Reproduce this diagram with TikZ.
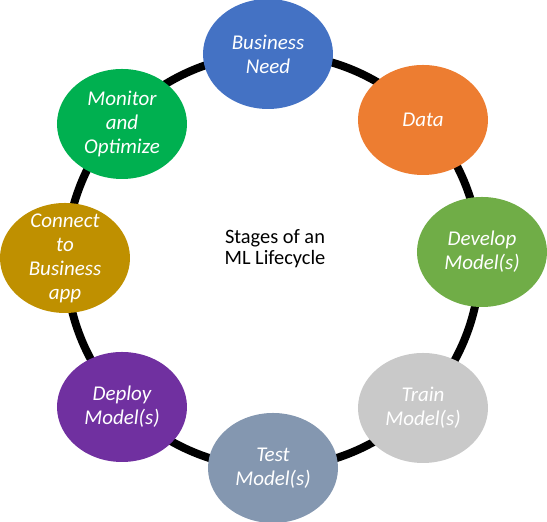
\documentclass[tikz,border=0pt]{standalone}
\usepackage{fontspec}
\setmainfont{Carlito}
\usetikzlibrary{shapes.geometric}

\definecolor{needblue}{HTML}{4472C4}
\definecolor{dataorange}{HTML}{ED7D31}
\definecolor{developgreen}{HTML}{70AD47}
\definecolor{traingray}{HTML}{C9C9C9}
\definecolor{testslate}{HTML}{8497B0}
\definecolor{deploypurple}{HTML}{7030A0}
\definecolor{connectgold}{HTML}{BF9000}
\definecolor{monitorgreen}{HTML}{00B050}

\tikzset{
    stage/.style={ellipse, minimum width=65pt, minimum height=55pt, inner sep=-6pt,
        text=white, align=center, font=\itshape\fontsize{10.5}{12}\selectfont},
    ring/.style={line width=4pt, black}
}

\begin{document}
\begin{tikzpicture}
        \useasboundingbox (-136.5pt,-130.5pt) rectangle (137pt,130.5pt);
        % Draw ring behind the stages
        \coordinate (ctr) at (0,0);
        \draw[ring] (ctr) circle[radius=103.5pt];
        % Draw stages (Vertices/Nodes)
        \foreach \stg/\clr/\pos/\lbl in {
            need/needblue/{-2.5pt,103.5pt}/{Business\\Need},
            data/dataorange/{75pt,70.5pt}/{Data},
            develop/developgreen/{104.5pt,4.5pt}/{Develop\\Model(s)},
            train/traingray/{75pt,-73.5pt}/{Train\\Model(s)},
            test/testslate/{0pt,-103.5pt}/{Test\\Model(s)},
            deploy/deploypurple/{-75.5pt,-73pt}/{Deploy\\Model(s)},
            connect/connectgold/{-104pt,1.5pt}/{Connect\\to\\Business\\app},
            monitor/monitorgreen/{-75.5pt,68.5pt}/{Monitor\\and\\Optimize}}{
            \node[stage, fill=\clr] (\stg) at (\pos) {\lbl};
        }
        % Title in the middle
        \node[align=center, font=\fontsize{10.2}{10.5}\selectfont] (hub) at (1pt,6pt) {Stages of an\\ML Lifecycle};
    \end{tikzpicture}
\end{document}
